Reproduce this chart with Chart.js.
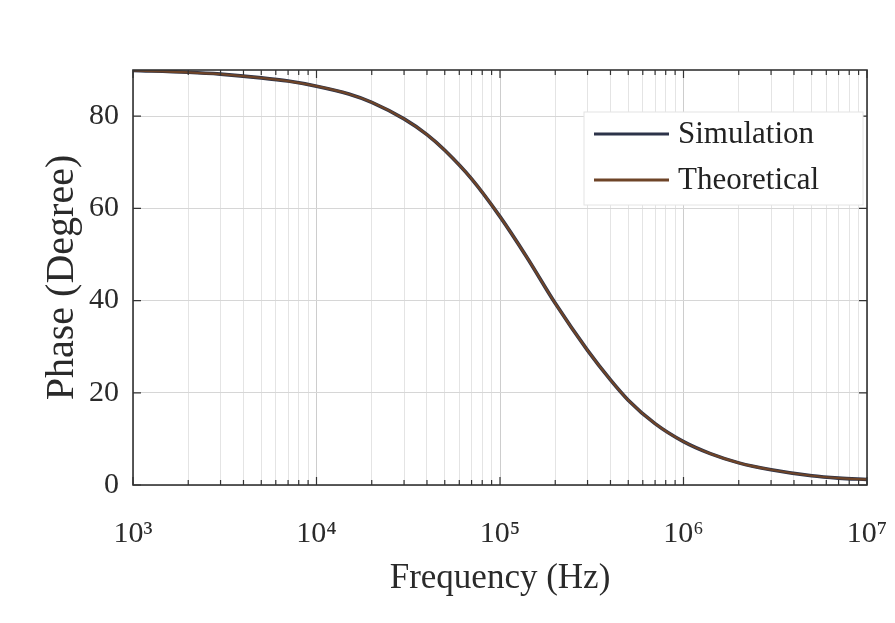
<!DOCTYPE html>
<html>
<head>
<meta charset="utf-8">
<script src="https://cdn.jsdelivr.net/npm/chart.js@4.4.0/dist/chart.umd.min.js"></script>
<style>
  html, body { margin: 0; padding: 0; background: #fff; overflow: hidden; }
</style>
</head>
<body>
<canvas id="phase-chart" width="895" height="623"></canvas>
<script>
// frequency points (Hz) and phase (degrees)
const freqs = [1e3, 2e3, 3e3, 5e3, 7e3, 1e4, 1.5e4, 2e4, 3e4, 4e4, 5e4, 7e4, 1e5, 1.4e5, 2e5, 3e5, 4e5, 5e5, 7e5, 1e6, 1.4e6, 2e6, 3e6, 5e6, 7e6, 1e7];
const simPhase = [89.9, 89.5, 89.1, 88.3, 87.6, 86.5, 84.8, 83.0, 79.4, 76.0, 72.6, 66.4, 58.2, 49.4, 39.4, 29.2, 22.8, 18.4, 13.3, 9.4, 6.8, 4.8, 3.3, 2.0, 1.5, 1.2];
const theoPhase = [89.9, 89.5, 89.1, 88.3, 87.6, 86.5, 84.8, 83.0, 79.4, 76.0, 72.6, 66.4, 58.2, 49.4, 39.4, 29.2, 22.8, 18.4, 13.3, 9.4, 6.8, 4.8, 3.3, 2.0, 1.5, 1.2];
const xDecades = [3, 4, 5, 6, 7];
const yTicks = [0, 20, 40, 60, 80];
const seriesNames = ['Simulation', 'Theoretical'];

const sup = {'0':'⁰','1':'¹','2':'²','3':'³','4':'⁴','5':'⁵','6':'⁶','7':'⁷','8':'⁸','9':'⁹'};
const serif = "'Liberation Serif', 'Times New Roman', serif";

function isDecade(v) {
  const l = Math.log10(v);
  return Math.abs(l - Math.round(l)) < 1e-9;
}

// inward ticks + frame box + legend, matlab style
const framePlugin = {
  id: 'frame',
  afterDraw(chart) {
    const {ctx, chartArea: a, scales} = chart;
    ctx.save();
    ctx.strokeStyle = '#333';
    ctx.lineWidth = 1.2;
    scales.x.ticks.forEach(t => {
      const px = scales.x.getPixelForValue(t.value);
      const len = isDecade(t.value) ? 8 : 5;
      ctx.beginPath();
      ctx.moveTo(px, a.bottom); ctx.lineTo(px, a.bottom - len);
      ctx.moveTo(px, a.top); ctx.lineTo(px, a.top + len);
      ctx.stroke();
    });
    scales.y.ticks.forEach(t => {
      const py = scales.y.getPixelForValue(t.value);
      ctx.beginPath();
      ctx.moveTo(a.left, py); ctx.lineTo(a.left + 8, py);
      ctx.moveTo(a.right, py); ctx.lineTo(a.right - 8, py);
      ctx.stroke();
    });
    ctx.lineWidth = 1.6;
    ctx.strokeRect(a.left, a.top, a.right - a.left, a.bottom - a.top);

    // legend box
    const bx = a.right - 283, by = a.top + 42, bw = 279, bh = 93;
    ctx.fillStyle = '#fff';
    ctx.fillRect(bx, by, bw, bh);
    ctx.strokeStyle = '#e4e4e4';
    ctx.lineWidth = 1;
    ctx.strokeRect(bx, by, bw, bh);
    ctx.font = '31px ' + serif;
    ctx.textBaseline = 'middle';
    chart.data.datasets.forEach((ds, i) => {
      const y = by + 22 + i * 46;
      ctx.strokeStyle = ds.borderColor;
      ctx.lineWidth = 3;
      ctx.beginPath();
      ctx.moveTo(bx + 10, y); ctx.lineTo(bx + 85, y);
      ctx.stroke();
      ctx.fillStyle = '#222';
      ctx.fillText(ds.label, bx + 94, y + 1);
    });
    ctx.restore();
  }
};

new Chart(document.getElementById('phase-chart'), {
  type: 'line',
  data: {
    datasets: [{
      label: seriesNames[0],
      data: freqs.map((f, i) => ({x: f, y: simPhase[i]})),
      borderColor: '#2c3349',
      borderWidth: 3.6,
      pointRadius: 0,
      cubicInterpolationMode: 'monotone',
      order: 1
    }, {
      label: seriesNames[1],
      data: freqs.map((f, i) => ({x: f, y: theoPhase[i]})),
      borderColor: '#6e4428',
      borderWidth: 2.2,
      pointRadius: 0,
      cubicInterpolationMode: 'monotone',
      order: 0
    }]
  },
  options: {
    responsive: false,
    animation: false,
    devicePixelRatio: 1,
    layout: { padding: { top: 70, right: 28, left: 0, bottom: 0 } },
    plugins: { legend: { display: false }, tooltip: { enabled: false } },
    scales: {
      x: {
        type: 'logarithmic',
        min: 1e3,
        max: 1e7,
        afterBuildTicks(scale) {
          const ticks = [];
          for (let d = xDecades[0]; d < xDecades[xDecades.length - 1]; d++) {
            for (let s = 1; s <= 9; s++) ticks.push({value: s * Math.pow(10, d)});
          }
          ticks.push({value: Math.pow(10, xDecades[xDecades.length - 1])});
          scale.ticks = ticks;
        },
        afterFit(scale) {
          scale.height = 138;
          scale.paddingLeft = 0;
          scale.paddingRight = 0;
        },
        ticks: {
          autoSkip: false,
          maxRotation: 0,
          padding: 31,
          color: '#2a2a2a',
          font: { family: serif, size: 30 },
          callback(v) {
            if (!isDecade(v)) return '';
            const e = String(Math.round(Math.log10(v)));
            return '10' + e.split('').map(c => sup[c]).join('');
          }
        },
        grid: {
          drawTicks: false,
          color: ctx => ctx.tick && isDecade(ctx.tick.value) ? '#cdcdcd' : '#e4e4e4',
          lineWidth: 1
        },
        border: { display: false },
        title: {
          display: true,
          text: 'Frequency (Hz)',
          color: '#2a2a2a',
          font: { family: serif, size: 35 },
          padding: { top: 0, bottom: 23 }
        }
      },
      y: {
        min: 0,
        max: 90,
        afterBuildTicks(scale) { scale.ticks = yTicks.map(v => ({value: v})); },
        afterFit(scale) { scale.width = 133; },
        ticks: {
          padding: 14,
          color: '#2a2a2a',
          font: { family: serif, size: 30 }
        },
        grid: { drawTicks: false, color: '#d6d6d6', lineWidth: 1 },
        border: { display: false },
        title: {
          display: true,
          text: 'Phase (Degree)',
          color: '#2a2a2a',
          font: { family: serif, size: 40 },
          padding: { top: 38, bottom: 0 }
        }
      }
    }
  },
  plugins: [framePlugin]
});
</script>
</body>
</html>
